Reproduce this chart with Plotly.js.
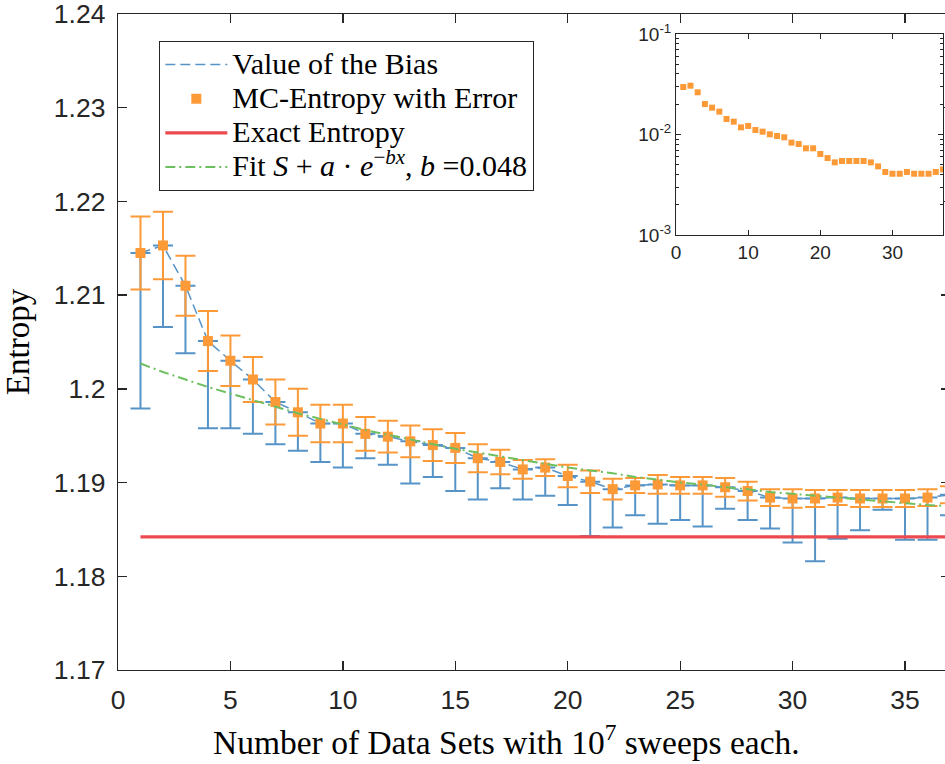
<!DOCTYPE html>
<html><head><meta charset="utf-8">
<script src="https://cdn.plot.ly/plotly-3.0.1.min.js"></script>
<style>html,body{margin:0;padding:0;overflow:hidden;background:#fff}#chart{width:951px;height:764px}</style>
</head><body><div id="chart"></div>
<script>
const dataSets = [1,2,3,4,5,6,7,8,9,10,11,12,13,14,15,16,17,18,19,20,21,22,23,24,25,26,27,28,29,30,31,32,33,34,35,36,37];
const mcEntropy = [1.2145,1.2153,1.2110,1.2051,1.2030,1.2010,1.1986,1.1975,1.1963,1.1963,1.1952,1.1949,1.1944,1.1940,1.1937,1.1926,1.1922,1.1914,1.1916,1.1907,1.1901,1.1893,1.1897,1.1898,1.1897,1.1897,1.1895,1.1891,1.1884,1.1883,1.1883,1.1884,1.1883,1.1883,1.1883,1.1884,1.1887];
const mcError = [0.0039,0.0036,0.0032,0.0032,0.0027,0.0024,0.0024,0.0025,0.0020,0.0020,0.0018,0.0017,0.0017,0.0017,0.0016,0.0015,0.0013,0.0010,0.0009,0.0012,0.0012,0.0011,0.0008,0.0010,0.0009,0.0009,0.0010,0.0010,0.0009,0.0010,0.0009,0.0008,0.0009,0.0009,0.0009,0.0009,0.0009];
const biasLowerEnd = [1.1979,1.2066,1.2038,1.1958,1.1958,1.1952,1.1941,1.1934,1.1922,1.1916,1.1926,1.1919,1.1899,1.1906,1.1891,1.1882,1.1894,1.1882,1.1886,1.1876,1.1843,1.1852,1.1865,1.1856,1.1860,1.1853,1.1872,1.1860,1.1851,1.1836,1.1816,1.1840,1.1849,1.1871,1.1839,1.1839,1.1865];
const fitValues = [1.2027,1.2018,1.2010,1.2002,1.1995,1.1988,1.1981,1.1974,1.1968,1.1962,1.1956,1.1951,1.1946,1.1941,1.1936,1.1932,1.1928,1.1924,1.1920,1.1916,1.1913,1.1910,1.1906,1.1903,1.1900,1.1898,1.1895,1.1893,1.1890,1.1888,1.1886,1.1884,1.1882,1.1880,1.1878,1.1876,1.1875];
const exactEntropy = 1.1842;
const exactX = [1, 37];
const insetValues = [0.0297,0.0306,0.0263,0.0201,0.0185,0.0169,0.01426,0.01342,0.01178,0.01216,0.01109,0.01067,0.01004,0.00966,0.00938,0.00830,0.00804,0.00729,0.00729,0.00640,0.00583,0.00528,0.00545,0.00545,0.00545,0.00545,0.00528,0.00482,0.00424,0.00407,0.00407,0.00424,0.00407,0.00407,0.00407,0.00424,0.00450];
const xTicks = [0,5,10,15,20,25,30,35];
const yTicks = [1.17,1.18,1.19,1.2,1.21,1.22,1.23,1.24];
const insetXTicks = [0,10,20,30];
const insetYTicks = [0.001,0.01,0.1];
const insetYText = ['10<sup>-3</sup>','10<sup>-2</sup>','10<sup>-1</sup>'];
const insetMinorTicks = [0.002,0.003,0.004,0.005,0.006,0.007,0.008,0.009,0.02,0.03,0.04,0.05,0.06,0.07,0.08,0.09];
const legendNames = ['Value of the Bias','MC-Entropy with Error','Exact Entropy','Fit <i>S</i> + <i>a</i> · <i>e</i><sup>−<i>bx</i></sup>, <i>b</i> =0.048'];
const xTitle = 'Number of Data Sets with 10<sup>7</sup> sweeps each.';
const yTitle = 'Entropy';

const BLUE='#5693c6', ORANGE='#fd9a38', RED='#ec4a4e', GREEN='#6dbf5f', AX='#262626';
const SERIF = 'Liberation Serif, Times New Roman, serif';
const SANS = 'Liberation Sans, Arial, sans-serif';
const biasMinus = mcEntropy.map((v,i)=>v - biasLowerEnd[i]);
const zeros = mcEntropy.map(()=>0);
const wide = s => '<span style="font-size:30px">' + s + '</span>';

const traces = [
 {x:dataSets, y:mcEntropy, mode:'lines', name:wide(legendNames[0]), line:{color:BLUE, width:1.5, dash:'10px,5px'},
  error_y:{type:'data', symmetric:false, array:zeros, arrayminus:biasMinus, color:BLUE, thickness:2, width:10}},
 {x:dataSets, y:mcEntropy, mode:'markers', name:wide(legendNames[1]), marker:{symbol:'square', size:10, color:ORANGE},
  error_y:{type:'data', array:mcError, color:ORANGE, thickness:2, width:10}},
 {x:exactX, y:exactX.map(()=>exactEntropy), mode:'lines', name:wide(legendNames[2]), line:{color:RED, width:3.2}},
 {x:dataSets, y:fitValues, mode:'lines', name:wide(legendNames[3]), line:{color:GREEN, width:2, dash:'10px,4px,2px,4px'}},
 {x:dataSets, y:insetValues, xaxis:'x2', yaxis:'y2', mode:'markers', showlegend:false, marker:{symbol:'square', size:6, color:ORANGE}}
];

const tickFont = {family:SANS, size:26.5, color:AX};
const insetFont = {family:SANS, size:19, color:AX};
const layout = {
 width:951, height:764,
 margin:{l:118, r:1, t:14, b:94},
 paper_bgcolor:'#fff', plot_bgcolor:'#fff',
 showlegend:true,
 legend:{x:0.0493, y:0.9588, xanchor:'left', yanchor:'top', bgcolor:'#fff', bordercolor:AX, borderwidth:1.3,
   font:{family:SERIF, size:24, color:'#000'}, itemwidth:62, tracegroupgap:0},
 xaxis:{range:[0,37], tickvals:xTicks, ticks:'inside', ticklen:9, tickwidth:1.3, tickcolor:AX, showline:true, linecolor:AX, linewidth:1.3,
   mirror:'ticks', showgrid:false, zeroline:false, tickfont:tickFont, ticklabelstandoff:6, ticklabeloverflow:'allow'},
 yaxis:{range:[1.17,1.24], tickvals:yTicks, ticks:'inside', ticklen:9, tickwidth:1.3, tickcolor:AX, showline:true, linecolor:AX, linewidth:1.3,
   mirror:'ticks', showgrid:false, zeroline:false, tickfont:tickFont, ticklabelstandoff:6, ticklabeloverflow:'allow',
   title:{text:yTitle, font:{family:SERIF, size:33, color:'#000'}, standoff:14}},
 xaxis2:{domain:[0.6707,0.9916], anchor:'y2', range:[0,37], tickvals:insetXTicks, ticks:'inside', ticklen:5, tickcolor:AX,
   showline:true, linecolor:AX, linewidth:1, mirror:'ticks', showgrid:false, zeroline:false, tickfont:insetFont},
 yaxis2:{domain:[0.6631,0.9695], anchor:'x2', type:'log', range:[-3,-1], tickvals:insetYTicks, ticktext:insetYText, ticks:'inside', ticklen:5, tickcolor:AX,
   showline:true, linecolor:AX, linewidth:1, mirror:'ticks', showgrid:false, zeroline:false,
   minor:{tickmode:'array', tickvals:insetMinorTicks, ticks:'inside', ticklen:3, tickcolor:AX, showgrid:false},
   tickfont:insetFont},
 annotations:[
   {text:xTitle, xref:'paper', yref:'paper', x:0.4675, y:-0.1067, xanchor:'center', yanchor:'middle', showarrow:false,
    font:{family:SERIF, size:33.5, color:'#000'}}
 ]
};
Plotly.newPlot('chart', traces, layout, {displayModeBar:false, staticPlot:true});
</script></body></html>
